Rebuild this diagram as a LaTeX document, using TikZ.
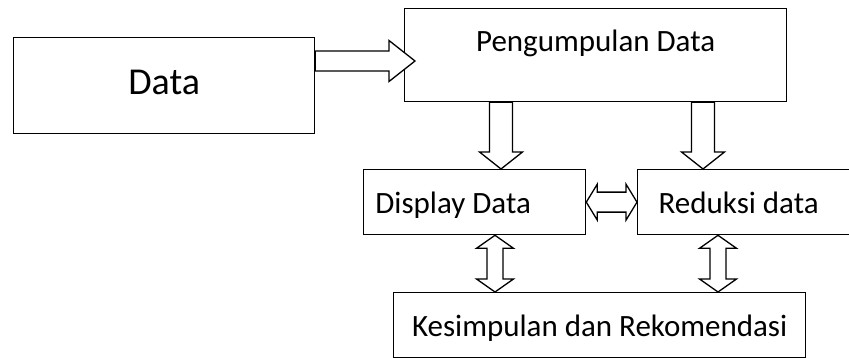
\documentclass[tikz,border=0pt]{standalone}
\usepackage{fontspec}
\setmainfont{Carlito}
\usetikzlibrary{calc}
\begin{document}
\begin{tikzpicture}[x=1pt,y=-1pt,
	box/.style={draw,line width=1.3pt,rectangle,anchor=north west,inner sep=0pt,
		font=\fontsize{31}{36}\selectfont,text height=22pt,text depth=0pt},
	fat/.style n args={3}{fill=white,line width=1.3pt,to path={
		let \p1=(\tikztostart), \p2=(\tikztotarget),
		\n1={atan2(\y2-\y1,\x2-\x1)}, \n2={veclen(\x2-\x1,\y2-\y1)} in
		{[shift={(\p1)},rotate=\n1] (0pt,-#1) -- (\n2-#3,-#1) -- (\n2-#3,-#2) -- (\n2,0pt)
		-- (\n2-#3,#2) -- (\n2-#3,#1) -- (0pt,#1) -- cycle} (\tikztotarget)}},
	fatboth/.style n args={3}{fill=white,line width=1.3pt,to path={
		let \p1=(\tikztostart), \p2=(\tikztotarget),
		\n1={atan2(\y2-\y1,\x2-\x1)}, \n2={veclen(\x2-\x1,\y2-\y1)} in
		{[shift={(\p1)},rotate=\n1] (0pt,0pt) -- (#3,#2) -- (#3,#1) -- (\n2-#3,#1) -- (\n2-#3,#2)
		-- (\n2,0pt) -- (\n2-#3,-#2) -- (\n2-#3,-#1) -- (#3,-#1) -- (#3,-#2) -- cycle} (\tikztotarget)}}]
	\useasboundingbox (0,0) rectangle (849,358);

	% boxes
	\node[box,minimum width=301pt,minimum height=96pt,font=\fontsize{38}{44}\selectfont,
		text height=27pt,text depth=9pt] (data) at (13,37) {Data};
	\node[box,minimum width=382pt,minimum height=93pt,text depth=30pt] (kumpul) at (404,8) {Pengumpulan Data};
	\node[box,minimum width=222pt,minimum height=65pt] (disp) at (363,169) {Display Data\kern43pt};
	\node[box,minimum width=240pt,minimum height=65pt] (redu) at (637,169) {Reduksi data\kern38pt};
	\node[box,minimum width=412pt,minimum height=65pt] (kes) at (393,292) {Kesimpulan dan Rekomendasi};

	% arrows
	\coordinate (a1) at ([yshift=-24pt]data.north east);
	\draw[fat={10pt}{20.5pt}{26pt}] (a1) to ($(a1 -| kumpul.west)+(11,0)$);
	\coordinate (d1) at ($(disp.north west)+(138,0)$);
	\draw[fat={11.5pt}{21.5pt}{17pt}] (d1 |- kumpul.south) to (d1);
	\coordinate (d2) at ($(redu.north west)+(66,0)$);
	\draw[fat={11.5pt}{21.5pt}{17pt}] (d2 |- kumpul.south) to (d2);
	\draw[fatboth={10pt}{18pt}{11pt}] (disp.east) to (redu.west);
	\coordinate (u1) at ($(disp.south west)+(132,0)$);
	\draw[fatboth={8pt}{18.5pt}{13pt}] (u1) to (u1 |- kes.north);
	\coordinate (u2) at ($(redu.south west)+(81,0)$);
	\draw[fatboth={8pt}{18.5pt}{13pt}] (u2) to (u2 |- kes.north);
\end{tikzpicture}
\end{document}
